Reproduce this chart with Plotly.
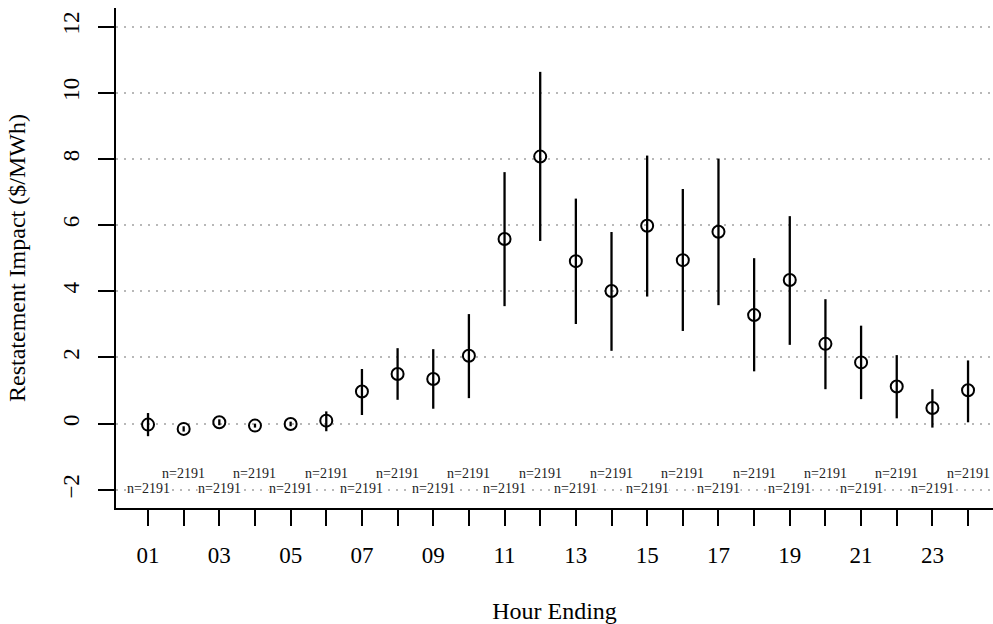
import plotly.graph_objects as go

hours = list(range(1, 25))
estimate = [-0.03, -0.16, 0.04, -0.06, -0.01, 0.09, 0.97, 1.50, 1.35, 2.05, 5.58, 8.07,
            4.91, 4.01, 5.98, 4.94, 5.80, 3.28, 4.34, 2.41, 1.85, 1.12, 0.47, 1.01]
lower = [-0.38, -0.24, -0.05, -0.12, -0.08, -0.23, 0.26, 0.72, 0.45, 0.77, 3.55, 5.52,
         3.01, 2.20, 3.84, 2.80, 3.58, 1.58, 2.38, 1.04, 0.74, 0.16, -0.12, 0.04]
upper = [0.32, -0.08, 0.13, 0.00, 0.06, 0.37, 1.65, 2.28, 2.25, 3.31, 7.60, 10.63,
         6.80, 5.79, 8.10, 7.09, 8.01, 5.00, 6.27, 3.76, 2.96, 2.07, 1.04, 1.91]
n_obs = [2191] * 24
x_ticktext = ["01", "", "03", "", "05", "", "07", "", "09", "", "11", "", "13", "",
              "15", "", "17", "", "19", "", "21", "", "23", ""]
y_tickvals = [-2, 0, 2, 4, 6, 8, 10, 12]
y_ticktext = ["\u22122", "0", "2", "4", "6", "8", "10", "12"]
label_rows = [-1.97, -1.52]  # odd hours lower row, even hours upper row

serif = "Liberation Serif, Times New Roman, serif"

fig = go.Figure()
fig.add_trace(go.Scatter(
    x=hours, y=estimate, mode="markers",
    marker=dict(symbol="circle-open", size=12, color="black", line=dict(width=2, color="black")),
    error_y=dict(type="data", symmetric=False,
                 array=[u - e for u, e in zip(upper, estimate)],
                 arrayminus=[e - l for e, l in zip(estimate, lower)],
                 width=0, thickness=2.3, color="black"),
    showlegend=False, hoverinfo="skip",
))

for h, n in zip(hours, n_obs):
    fig.add_annotation(x=h, y=label_rows[h % 2 == 0], text=f"n={n}", showarrow=False,
                       font=dict(family=serif, size=14, color="#222"),
                       bgcolor="white", borderpad=0, xanchor="center", yanchor="middle")

# y-axis title placed as a rotated text annotation
fig.add_annotation(text="Restatement Impact ($/MWh)", xref="paper", yref="paper",
                   x=0, y=0.5, xanchor="center", yanchor="middle", xshift=-99,
                   textangle=-90, showarrow=False,
                   font=dict(family=serif, size=24, color="black"))

fig.update_layout(
    width=993, height=624,
    margin=dict(l=116, r=0, t=8, b=116),
    paper_bgcolor="white", plot_bgcolor="white",
    font=dict(family=serif, color="black", size=23),
    xaxis=dict(
        range=[0.102, 24.70], tickmode="array", tickvals=hours, ticktext=x_ticktext,
        ticks="outside", ticklen=16, tickwidth=2, tickcolor="black",
        ticklabelstandoff=9,
        showline=True, linecolor="black", linewidth=2, showgrid=False, zeroline=False,
        tickfont=dict(size=23),
        title=dict(text="Hour Ending", standoff=36, font=dict(size=24)),
    ),
    yaxis=dict(
        range=[-2.55, 12.56], tickmode="array", tickvals=y_tickvals, ticktext=y_ticktext,
        ticks="outside", ticklen=16, tickwidth=2, tickcolor="black", tickangle=-90,
        ticklabelstandoff=10,
        showline=True, linecolor="black", linewidth=2,
        showgrid=True, gridcolor="#b8b8b8", gridwidth=1.5, griddash="2px,6px",
        zeroline=False, tickfont=dict(size=23),
    ),
)

fig.write_html("out.html")
